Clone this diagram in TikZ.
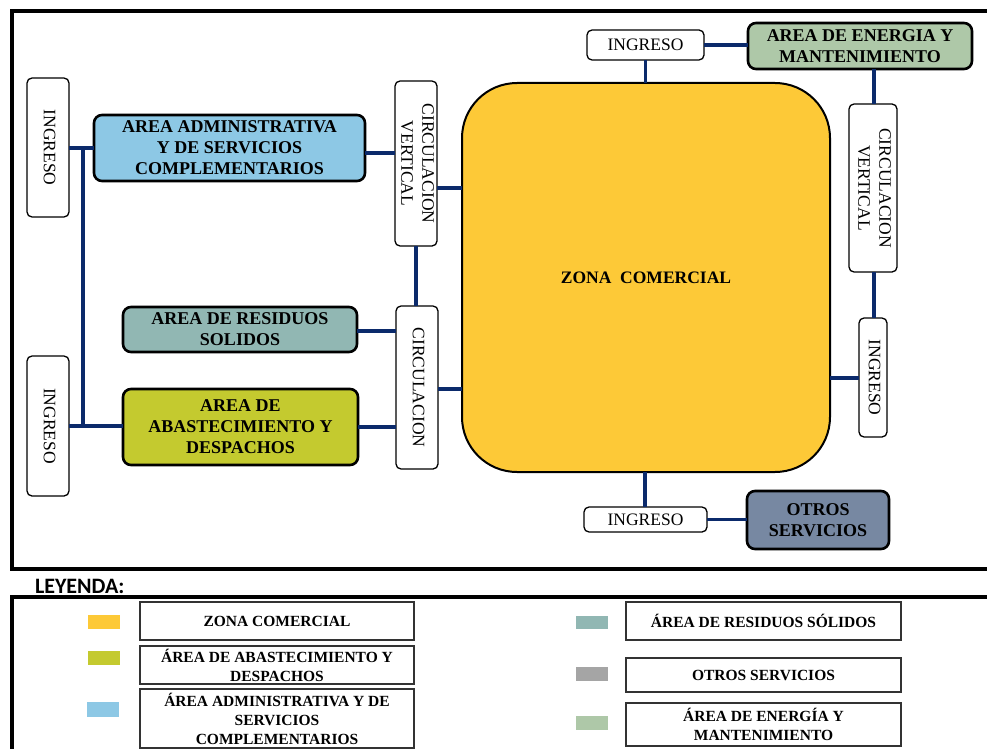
\documentclass[tikz,border=0pt]{standalone}
\usepackage{fontspec}
\setmainfont{Liberation Serif}
\newfontfamily\legendfont{Carlito}
\definecolor{navy}{HTML}{0B2A6B}
\definecolor{czona}{HTML}{FDC937}
\definecolor{cadm}{HTML}{8DC8E5}
\definecolor{cres}{HTML}{91B7B3}
\definecolor{caba}{HTML}{C4CA2F}
\definecolor{cene}{HTML}{AEC8A8}
\definecolor{cotr}{HTML}{7788A2}
\definecolor{cgris}{HTML}{A5A5A5}
\newcommand{\vtext}[1]{\rotatebox{-90}{\begin{tabular}{@{}c@{}}#1\end{tabular}}}
\begin{document}
\begin{tikzpicture}[x=1pt,y=-1pt,
  every node/.style={inner sep=0pt, outer sep=0pt},
  area/.style={draw=black, line width=2.6pt, rounded corners=8pt, align=center,
    font=\fontsize{18}{21}\selectfont\bfseries},
  wbox/.style={draw=black, line width=1.3pt, rounded corners=5pt, fill=white, align=center,
    font=\fontsize{17.5}{21}\selectfont},
  link/.style={draw=navy, line width=3.8pt},
  lbox/.style={draw=black!80, line width=1.2pt, align=center,
    font=\fontsize{15.5}{19}\selectfont\bfseries},
  swatch/.style={minimum width=32pt, minimum height=14pt},
  frame/.style={line width=4pt}
]
\useasboundingbox (0,0) rectangle (987,749);

% outer frames
\draw[frame] (987,11.5) -- (11.5,11.5) -- (11.5,568.5) -- (987,568.5);
\draw[frame] (987,597) -- (12,597) -- (12,749);

% ---- zoning diagram ----
\node[draw=black, line width=2pt, fill=czona, rounded corners=55pt,
      minimum width=368pt, minimum height=389pt,
      font=\fontsize{17.5}{21}\selectfont\bfseries] (zona) at (646,277.5) {ZONA\ \ COMERCIAL};

\node[wbox, minimum width=42pt, minimum height=139pt] (ing1) at (48,147.5) {\vtext{INGRESO}};
\node[wbox, minimum width=42pt, minimum height=140pt] (ing2) at (48,426) {\vtext{INGRESO}};
\node[area, fill=cadm, minimum width=271pt, minimum height=66pt] (adm) at (229.5,148)
  {AREA ADMINISTRATIVA\\Y DE SERVICIOS\\COMPLEMENTARIOS};
\node[wbox, minimum width=42pt, minimum height=165pt] (cv1) at (416,163.5) {\vtext{CIRCULACION\\VERTICAL}};
\node[area, fill=cres, minimum width=234pt, minimum height=45pt] (res) at (240,329.5)
  {AREA DE RESIDUOS\\SOLIDOS};
\node[wbox, minimum width=42pt, minimum height=163pt] (cir) at (417,387.5) {\vtext{CIRCULACION}};
\node[area, fill=caba, minimum width=235pt, minimum height=76pt] (aba) at (240.5,427)
  {AREA DE\\ABASTECIMIENTO Y\\DESPACHOS};

\node[wbox, minimum width=117pt, minimum height=30pt] (ing3) at (645.5,45) {INGRESO};
\node[area, fill=cene, minimum width=224pt, minimum height=46pt] (ene) at (860,46)
  {AREA DE ENERGIA Y\\MANTENIMIENTO};
\node[wbox, minimum width=48pt, minimum height=168pt] (cv2) at (873,188) {\vtext{CIRCULACION\\VERTICAL}};
\node[wbox, minimum width=28pt, minimum height=119pt] (ing4) at (873,377.5) {\vtext{INGRESO}};
\node[wbox, minimum width=123pt, minimum height=25pt] (ing5) at (645.5,519.5) {INGRESO};
\node[area, fill=cotr, minimum width=142pt, minimum height=58pt] (otr) at (818,520)
  {OTROS\\SERVICIOS};

% connectors
\coordinate (j1) at (83,148);
\coordinate (j2) at (83,426);
\draw[link] (ing1.east |- adm) -- (adm.west);
\draw[link] (j1) -- (j2);
\draw[link] (ing2.east) -- (aba.west |- ing2.east);
\draw[link] (adm.east |- 0,153) -- (cv1.west |- 0,153);
\draw[link] (cv1.east |- 0,188) -- (zona.west |- 0,188);
\draw[link] (cv1.south) -- (cir.north -| cv1.south);
\draw[link] (res.east |- 0,331) -- (cir.west |- 0,331);
\draw[link] (aba.east |- 0,427) -- (cir.west |- 0,427);
\draw[link] (cir.east |- 0,389) -- (zona.west |- 0,389);
\draw[link] (ing3.south) -- (zona.north -| ing3.south);
\draw[link] (ing3.east) -- (ene.west |- ing3.east);
\draw[link] (ene.south -| 874,0) -- (cv2.north -| 874,0);
\draw[link] (cv2.south -| 874,0) -- (ing4.north -| 874,0);
\draw[link] (zona.east |- 0,378) -- (ing4.west |- 0,378);
\draw[link] (zona.south -| 645,0) -- (ing5.north -| 645,0);
\draw[link] (ing5.east) -- (otr.west |- ing5.east);

% ---- legend ----
\node[anchor=base west, font=\legendfont\fontsize{22}{26}\selectfont\bfseries] (ley) at (35,593) {LEYENDA:};

\node[swatch, fill=czona] (sz) at (104,622) {};
\node[swatch, fill=caba] (sa) at (104,658) {};
\node[swatch, fill=cadm, minimum height=15pt] (sd) at (103,709.5) {};
\node[swatch, fill=cres, minimum height=13pt] (sr) at (592,622.5) {};
\node[swatch, fill=cgris] (so) at (592,674) {};
\node[swatch, fill=cene] (se) at (592,723) {};

\node[lbox, minimum width=274pt, minimum height=38pt] (lz) at (277,621) {ZONA COMERCIAL};
\node[lbox, minimum width=274pt, minimum height=38pt] (la) at (277,665)
  {ÁREA DE ABASTECIMIENTO Y\\DESPACHOS};
\node[lbox, minimum width=274pt, minimum height=59pt] (ld) at (277,718.5)
  {ÁREA ADMINISTRATIVA Y DE\\SERVICIOS\\COMPLEMENTARIOS};
\node[lbox, minimum width=275pt, minimum height=38pt] (lr) at (763.5,621) {ÁREA DE RESIDUOS SÓLIDOS};
\node[lbox, minimum width=275pt, minimum height=34pt] (lo) at (763.5,675) {OTROS SERVICIOS};
\node[lbox, minimum width=275pt, minimum height=43pt] (le) at (763.5,724.5)
  {ÁREA DE ENERGÍA Y\\MANTENIMIENTO};
\end{tikzpicture}
\end{document}
